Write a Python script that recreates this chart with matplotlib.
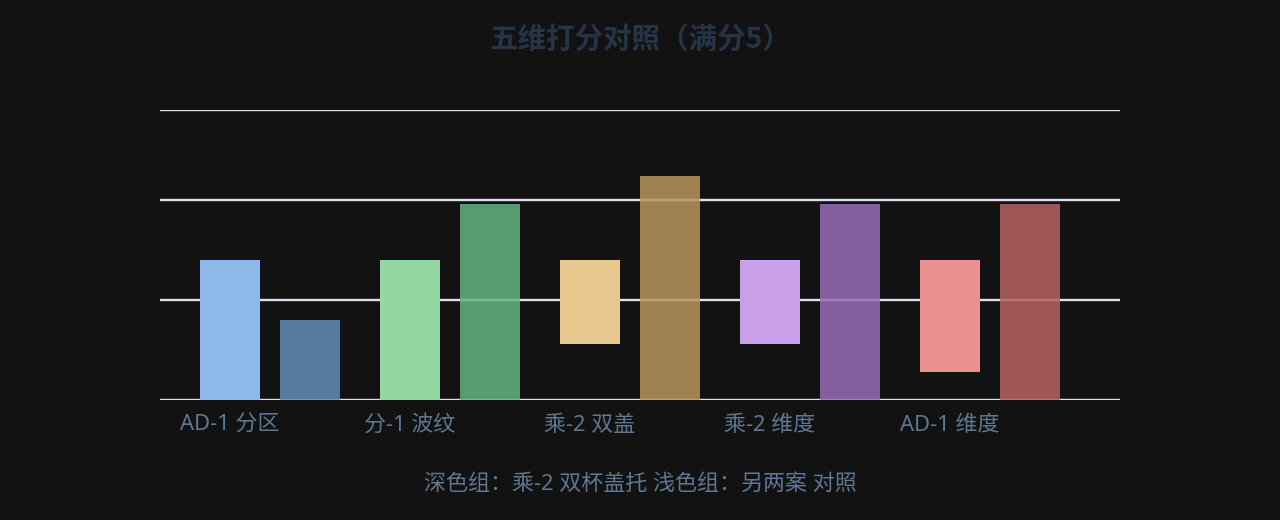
import matplotlib
matplotlib.use("Agg")
import matplotlib.pyplot as plt
import numpy as np

plt.rcParams['font.family'] = ['Noto Sans', 'Noto Sans CJK SC', 'DejaVu Sans']

# Data (score axis: gridline step = 1)
CATEGORIES = ["AD-1 分区", "分-1 波纹", "乘-2 双盖", "乘-2 维度", "AD-1 维度"]
LIGHT_LOW = [0.0, 0.0, 0.56, 0.56, 0.28]
LIGHT_HIGH = [1.4, 1.4, 1.4, 1.4, 1.4]
DARK_LOW = [0.0, 0.0, 0.0, 0.0, 0.0]
DARK_HIGH = [0.8, 1.96, 2.24, 1.96, 1.96]
GRID_TICKS = [0, 1, 2, 2.9]

TITLE = "五维打分对照（满分5）"
CAPTION = "深色组：乘-2 双杯盖托 浅色组：另两案 对照"

# Styles
BG = "#121212"
GRID_COLOR = "#e2deef"
TITLE_COLOR = "#253447"
LABEL_COLOR = "#5f7790"
LIGHT_COLORS = ["#8fb8ea", "#93d8a0", "#e8c88f", "#c89fe8", "#e8908f"]
DARK_COLORS = ["#618fb9", "#64b481", "#bb975f", "#986db8", "#b86161"]
BAR_W = 1 / 3
DARK_OFFSET = 0.4444


def main():
    fig = plt.figure(figsize=(12.8, 5.2), dpi=100, facecolor=BG)
    ax = fig.add_axes([0.125, 0.2308, 0.75, 0.5577], facecolor=BG)

    x = np.arange(len(CATEGORIES))
    light_h = np.array(LIGHT_HIGH) - np.array(LIGHT_LOW)
    dark_h = np.array(DARK_HIGH) - np.array(DARK_LOW)

    ax.bar(x, light_h, bottom=LIGHT_LOW, width=BAR_W, color=LIGHT_COLORS,
           zorder=3, linewidth=0)
    ax.bar(x + DARK_OFFSET, dark_h, bottom=DARK_LOW, width=BAR_W,
           color=DARK_COLORS, alpha=0.85, zorder=3, linewidth=0)

    ax.set_xlim(-0.3889, 4.9444)
    ax.set_ylim(0, GRID_TICKS[-1])
    ax.set_yticks(GRID_TICKS)
    ax.yaxis.grid(True, color=GRID_COLOR, linewidth=1.7, zorder=1)
    ax.set_axisbelow(True)
    ax.tick_params(axis='y', length=0, labelleft=False)

    ax.set_xticks(x)
    ax.set_xticklabels(CATEGORIES, fontsize=15.8, color=LABEL_COLOR)
    ax.tick_params(axis='x', length=0, pad=10.5)

    for s in ax.spines.values():
        s.set_visible(False)

    fig.text(0.5, 0.924, TITLE, ha='center', va='center', fontsize=20.5,
             fontweight='bold', color=TITLE_COLOR,
             family=['Noto Sans CJK SC', 'DejaVu Sans'])
    fig.text(0.5, 0.069, CAPTION, ha='center', va='center', fontsize=15.8,
             color=LABEL_COLOR)

    fig.savefig("out.png", dpi=100, facecolor=BG)
    plt.close(fig)


if __name__ == "__main__":
    main()
